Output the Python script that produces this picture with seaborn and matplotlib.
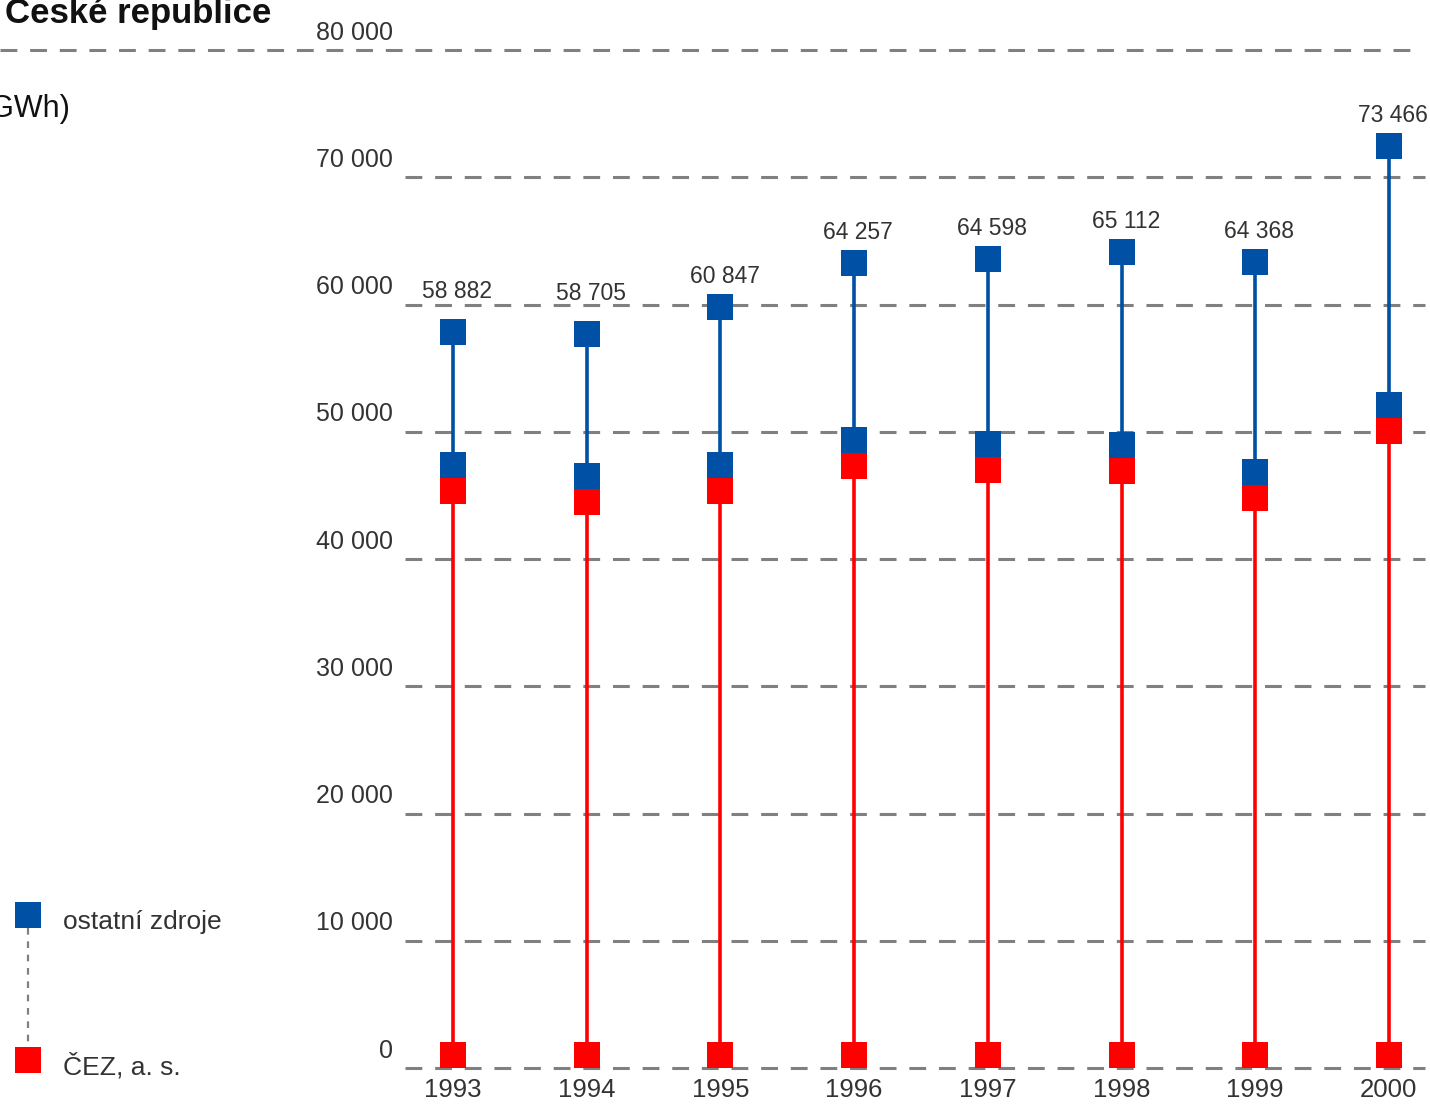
import numpy as np
import pandas as pd
import matplotlib.pyplot as plt
import matplotlib.transforms as mtransforms
from matplotlib.path import Path
from matplotlib.lines import Line2D
import seaborn as sns

# data (GWh)
years = ["1993", "1994", "1995", "1996", "1997", "1998", "1999", "2000"]
total = [58882, 58705, 60847, 64257, 64598, 65112, 64368, 73466]
cez = [46350, 45480, 46350, 48300, 48000, 47900, 45800, 51060]
yticks = [0, 10000, 20000, 30000, 40000, 50000, 60000, 70000, 80000]
label_extra = [7, 7, 0, 0, 0, 0, 0, 0]  # points, lift labels off the gridline

BLUE = "#0050a5"
RED = "#ff0000"
GRID = "#808080"
TXT = "#333333"

sns.set_style("white")
NARROW = ["Liberation Sans Narrow", "Liberation Sans", "DejaVu Sans"]
plt.rcParams["font.family"] = NARROW

def fmt(v):
    return f"{v:,}".replace(",", " ")

df = pd.DataFrame({"pos": np.arange(len(years)), "year": years,
                   "total": total, "cez": cez, "zero": 0})

# square markers sitting above / hanging below the data point
sq_above = Path([(-1, 0), (1, 0), (1, 2), (-1, 2), (-1, 0)], closed=True)
sq_below = Path([(-1, -2), (1, -2), (1, 0), (-1, 0), (-1, -2)], closed=True)

fig = plt.figure(figsize=(14.3, 11.06), dpi=100)
ax = fig.add_axes([405 / 1430, 38 / 1106, 1020 / 1430, 1018 / 1106])

# gridlines
for v in yticks:
    ax.axhline(v, color=GRID, lw=2.2, linestyle=(0, (5.5, 4.2)), zorder=0,
               xmin=(-0.397 if v == yticks[-1] else 0),
               xmax=(0.995 if v == yticks[-1] else 1), clip_on=False)

# stems
ax.vlines(df["pos"], df["zero"], df["cez"], color=RED, lw=2.6, zorder=2)
ax.vlines(df["pos"], df["cez"], df["total"], color=BLUE, lw=2.6, zorder=2)

s = 1400
sns.scatterplot(data=df, x="pos", y="zero", marker=sq_above, s=s, color=RED,
                linewidth=0, ax=ax, zorder=3, legend=False)
sns.scatterplot(data=df, x="pos", y="cez", marker=sq_below, s=s, color=RED,
                linewidth=0, ax=ax, zorder=3, legend=False)
sns.scatterplot(data=df, x="pos", y="cez", marker=sq_above, s=s, color=BLUE,
                linewidth=0, ax=ax, zorder=3, legend=False)
sns.scatterplot(data=df, x="pos", y="total", marker=sq_below, s=s, color=BLUE,
                linewidth=0, ax=ax, zorder=3, legend=False)

# value labels
for i, (v, extra) in enumerate(zip(total, label_extra)):
    ax.annotate(fmt(v), xy=(i, v), xytext=(3, 8 + extra), textcoords="offset points",
                ha="center", va="baseline", fontsize=16.5, color=TXT)

# y labels sit above their gridline
trans = mtransforms.blended_transform_factory(ax.transAxes, ax.transData)
for v in yticks:
    ax.annotate(fmt(v), xy=(-0.012, v), xycoords=trans, xytext=(0, 7.5),
                textcoords="offset points", ha="right", va="baseline",
                fontsize=18, color=TXT, annotation_clip=False)

ax.set_xlim(-0.36, 7.27)
ax.set_ylim(0, 80000)
ax.set_yticks([])
ax.set_xticks(df["pos"], years)
ax.tick_params(axis="x", length=0, pad=7, labelsize=18.5, labelcolor=TXT)
ax.set_xlabel("")
ax.set_ylabel("")
sns.despine(ax=ax, left=True, bottom=True)

# header texts (cut off at the edges as in the source)
fig.text(5 / 1430, 1 - 23 / 1106, "České republice", fontsize=25, fontweight="bold",
         color="#111111", ha="left", va="baseline", family=["Liberation Sans", "DejaVu Sans"])
fig.text(70 / 1430, 1 - 117 / 1106, "(GWh)", fontsize=22, color="#111111",
         ha="right", va="baseline", family=["Liberation Sans", "DejaVu Sans"])

# legend
def fx(px):
    return px / 1430

def fy(py):
    return 1 - py / 1106

fig.add_artist(Line2D([fx(28), fx(28)], [fy(928), fy(1050)], color=GRID, lw=1.6,
                      linestyle=(0, (3, 3))))
fig.add_artist(Line2D([fx(28)], [fy(915)], marker="s", markersize=18.5, color=BLUE,
                      markeredgewidth=0, linestyle="none"))
fig.add_artist(Line2D([fx(28)], [fy(1060)], marker="s", markersize=18.5, color=RED,
                      markeredgewidth=0, linestyle="none"))
fig.text(fx(63), fy(929), "ostatní zdroje", fontsize=19, color=TXT, va="baseline")
fig.text(fx(63), fy(1074), "ČEZ, a. s.", fontsize=19, color=TXT, va="baseline")

fig.savefig("out.png", dpi=100)
